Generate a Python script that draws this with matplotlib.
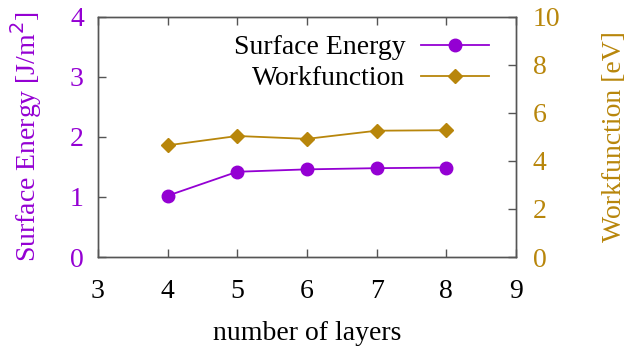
import matplotlib
matplotlib.use('Agg')
import matplotlib.pyplot as plt

layers = [4, 5, 6, 7, 8]
surface_energy = [1.02, 1.42, 1.46, 1.48, 1.49]
workfunction = [4.65, 5.04, 4.92, 5.26, 5.28]

purple = '#9400d3'
gold = '#b8860b'
plt.rcParams['font.family'] = ['Liberation Serif', 'DejaVu Serif']
plt.rcParams['font.size'] = 20

fig = plt.figure(figsize=(6.27, 3.49), dpi=100)
ax = fig.add_axes([0.156, 0.2636, 0.667, 0.688])
ax2 = ax.twinx()

l1, = ax.plot(layers, surface_energy, color=purple, marker='o', markersize=9, lw=1.3)
l2, = ax2.plot(layers, workfunction, color=gold, marker='D', markersize=7, lw=1.3)

ax.set_xlim(3, 9)
ax.set_ylim(0, 4)
ax2.set_ylim(0, 10)
ax.set_xticks([3, 4, 5, 6, 7, 8, 9])
ax.set_yticks([0, 1, 2, 3, 4])
ax2.set_yticks([0, 2, 4, 6, 8, 10])

for a in (ax, ax2):
    for s in a.spines.values():
        s.set_color('#555555')
        s.set_linewidth(1)
ax.tick_params(direction='in', length=6, color='#555555', top=True, width=1)
ax.tick_params(axis='y', colors=purple, color='#555555')
ax2.tick_params(direction='in', length=6, color='#555555', width=1)
ax2.tick_params(axis='y', colors=gold, color='#555555')
ax.tick_params(axis='x', pad=16)
ax.tick_params(axis='y', pad=10)
ax2.tick_params(axis='y', pad=12)

ax.set_xlabel('number of layers', labelpad=12)
ax.set_ylabel('Surface Energy [J/m$^2$]', color=purple, labelpad=19)
ax2.set_ylabel('Workfunction [eV]', color=gold, labelpad=30)

ax.legend([l1, l2], ['Surface Energy', 'Workfunction'], loc='upper right',
          bbox_to_anchor=(0.935, 0.925), borderaxespad=0, borderpad=0,
          frameon=False, markerfirst=False, handlelength=2.45,
          labelspacing=0.2, handletextpad=0.55)

fig.savefig('out.png', dpi=100)
